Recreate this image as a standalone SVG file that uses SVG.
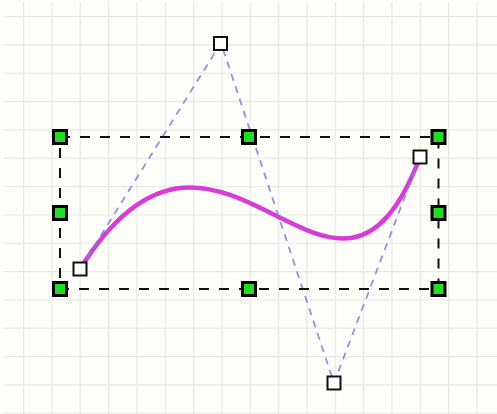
<svg xmlns="http://www.w3.org/2000/svg" width="497" height="414" viewBox="0 0 497 414">
  <defs>
    <style>
      .bg { fill: #fdfdf9; }
      .grid { fill: none; stroke: #e9e9e5; stroke-width: 2.5; }
      .curve { fill: none; stroke: #d83cd8; stroke-width: 4.5; stroke-linecap: round; }
      .ctrl { fill: none; stroke: #7f7fdc; stroke-width: 1.8; stroke-dasharray: 7 6; opacity: 0.85; }
      .box { fill: none; stroke: #111111; stroke-width: 2; stroke-dasharray: 10 10; }
      .handle { fill: #22dd22; stroke: #000000; stroke-width: 3; }
      .cp { fill: #ffffff; stroke: #111111; stroke-width: 2; }
    </style>
    <pattern id="gridpat" x="23" y="16" width="28.333" height="28.333" patternUnits="userSpaceOnUse">
      <path class="grid" d="M0 0 V28.333 M0 0 H28.333"/>
    </pattern>
  </defs>
  <rect class="bg" x="0" y="0" width="497" height="414"/>
  <rect x="4" y="2" width="493" height="412" fill="url(#gridpat)"/>

  <g id="curve">
    <path class="curve" d="M80 269 C221 43 334 383 420 157"/>
  </g>

  <g id="connectors">
    <path class="ctrl" d="M80 269 L221 43 L334 383 L420 157"/>
    <path class="box" d="M60 137 H438.5 V289 H60 Z"/>
  </g>

  <g id="handle-tl"><rect class="handle" x="53.5" y="130.5" width="13" height="13"/></g>
  <g id="handle-tm"><rect class="handle" x="242.5" y="130.5" width="13" height="13"/></g>
  <g id="handle-tr"><rect class="handle" x="432" y="130.5" width="13" height="13"/></g>
  <g id="handle-ml"><rect class="handle" x="53.5" y="206.5" width="13" height="13"/></g>
  <g id="handle-mr"><rect class="handle" x="432" y="206.5" width="13" height="13"/></g>
  <g id="handle-bl"><rect class="handle" x="53.5" y="282.5" width="13" height="13"/></g>
  <g id="handle-bm"><rect class="handle" x="242.5" y="282.5" width="13" height="13"/></g>
  <g id="handle-br"><rect class="handle" x="432" y="282.5" width="13" height="13"/></g>

  <g id="point-p0"><rect class="cp" x="73.5" y="262.5" width="13" height="13"/></g>
  <g id="point-p1"><rect class="cp" x="214" y="37" width="13" height="13"/></g>
  <g id="point-p2"><rect class="cp" x="327.5" y="376.5" width="13" height="13"/></g>
  <g id="point-p3"><rect class="cp" x="413.5" y="150.5" width="13" height="13"/></g>
</svg>
